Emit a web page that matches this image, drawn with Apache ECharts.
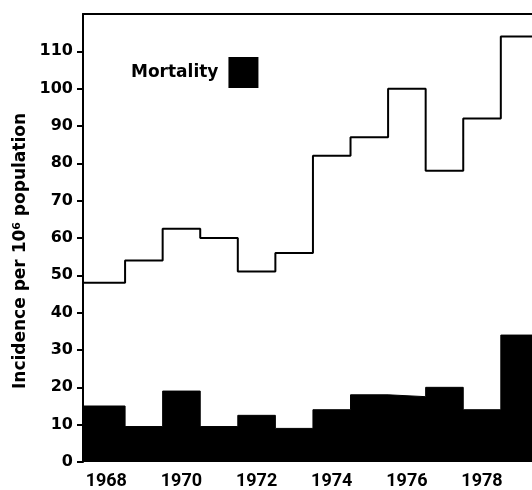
<!DOCTYPE html>
<html>
<head>
<meta charset="utf-8">
<script src="https://cdn.jsdelivr.net/npm/echarts@6/dist/echarts.min.js"></script>
<style>html,body{margin:0;padding:0;background:#fff;}#c{width:532px;height:490px;}</style>
</head>
<body>
<div id="c"></div>
<script>
const years = [1968, 1969, 1970, 1971, 1972, 1973, 1974, 1975, 1976, 1977, 1978, 1979];
const incidence = [48, 54, 62.5, 60, 51, 56, 82, 87, 100, 78, 92, 114];
const mortality = [15, 9.5, 19, 9.5, 12.5, 9, 14, 18, 17.5, 20, 14, 34];
const yTicks = [0, 10, 20, 30, 40, 50, 60, 70, 80, 90, 100, 110];
const xTicks = [1968, 1970, 1972, 1974, 1976, 1978];

// step (histogram) outline: each year's value spans year-0.5 .. year+0.5
function stepData(vals) {
  const n = years.length;
  const d = [[years[0] - 1, vals[0]]];
  for (let i = 1; i < n; i++) d.push([years[i] - 0.5, vals[i]]);
  d.push([years[n - 1] + 1, vals[n - 1]]);
  return d;
}

const FONT = 'DejaVu Sans';
const XFONT = 'Roboto';
const chart = echarts.init(document.getElementById('c'), null, {renderer: 'canvas'});
chart.setOption({
  animation: false,
  backgroundColor: '#fff',
  grid: {left: 83, right: 0, top: 14, bottom: 28, containLabel: false, outerBoundsMode: 'none'},
  legend: {
    data: ['Mortality'],
    left: 126, top: 52,
    align: 'right',
    icon: 'rect',
    itemWidth: 30, itemHeight: 31,
    textStyle: {fontFamily: FONT, fontWeight: 'bold', fontSize: 17, color: '#000', padding: [0, 5, 0, 0]}
  },
  xAxis: [{
    type: 'value', min: 1967.38, max: 1979.33,
    axisLine: {show: false}, axisTick: {show: false}, splitLine: {show: false},
    axisLabel: {customValues: xTicks, margin: 10, fontFamily: XFONT, fontWeight: 'bold', fontSize: 18, color: '#000',
      formatter: v => String(v)}
  }, {
    type: 'value', position: 'top', min: 1967.38, max: 1979.33,
    axisLine: {show: true, onZero: false, lineStyle: {color: '#000', width: 2}},
    axisTick: {show: false}, axisLabel: {show: false}, splitLine: {show: false}
  }],
  yAxis: {
    type: 'value', min: 0, max: 120,
    name: 'Incidence per 10{sup|6} population',
    nameLocation: 'middle', nameGap: 53, nameRotate: 90,
    nameTextStyle: {fontFamily: FONT, fontWeight: 'bold', fontSize: 17, color: '#000', padding: [0, 26, 0, 0],
      rich: {sup: {fontFamily: FONT, fontWeight: 'bold', fontSize: 11, color: '#000', verticalAlign: 'top', lineHeight: 12}}},
    axisLine: {show: true, lineStyle: {color: '#000', width: 2}},
    axisTick: {show: true, customValues: yTicks, length: 6, lineStyle: {color: '#000', width: 2}},
    axisLabel: {customValues: yTicks, margin: 10, fontFamily: FONT, fontWeight: 'bold', fontSize: 16, color: '#000'},
    splitLine: {show: false}
  },
  series: [{
    name: 'Incidence', type: 'line', step: 'end', data: stepData(incidence),
    symbol: 'none', clip: true,
    lineStyle: {color: '#000', width: 2}, itemStyle: {color: '#000'}, z: 3
  }, {
    name: 'Mortality', type: 'line', step: 'end', data: stepData(mortality),
    symbol: 'none', clip: true,
    lineStyle: {color: '#000', width: 1}, itemStyle: {color: '#000'},
    areaStyle: {color: '#000', opacity: 1}, z: 2
  }]
});
</script>
</body>
</html>
